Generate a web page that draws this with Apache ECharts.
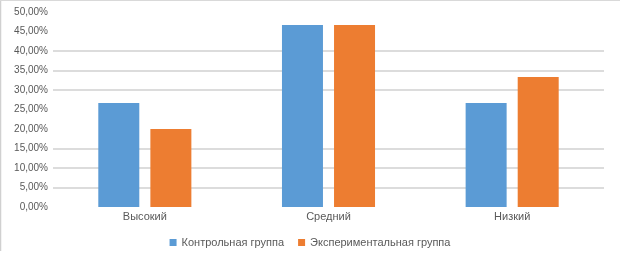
<!DOCTYPE html>
<html>
<head>
<meta charset="utf-8">
<script src="https://cdn.jsdelivr.net/npm/echarts@6/dist/echarts.min.js"></script>
<style>html,body{margin:0;padding:0;background:#fff}#c{width:620px;height:257px}</style>
</head>
<body>
<div id="c"></div>
<script>
var categories = ['Высокий', 'Средний', 'Низкий'];
var seriesNames = ['Контрольная группа', 'Экспериментальная группа'];
var controlValues = [26.67, 46.67, 26.67];
var experimentalValues = [20.0, 46.67, 33.33];
var gridLineValues = [5, 10, 15, 30, 35, 40];
var yMin = 0, yMax = 50, yStep = 5;

var chart = echarts.init(document.getElementById('c'), null, {renderer: 'canvas'});
var lblFont = 'Liberation Sans, Arial, sans-serif';
chart.setOption({
  animation: false,
  color: ['#5B9BD5', '#ED7D31'],
  grid: {left: 53, right: 16, top: 12, bottom: 50, containLabel: false},
  legend: {
    data: seriesNames,
    top: 232, left: 'center',
    itemWidth: 7, itemHeight: 7, itemGap: 14,
    icon: 'rect',
    textStyle: {color: '#595959', fontSize: 11, fontFamily: lblFont}
  },
  xAxis: {
    type: 'category', data: categories,
    axisLine: {show: false}, axisTick: {show: false},
    axisLabel: {color: '#595959', fontSize: 11, fontFamily: lblFont, margin: 4}
  },
  yAxis: {
    type: 'value', min: yMin, max: yMax, interval: yStep,
    axisLine: {show: false}, axisTick: {show: false},
    splitLine: {show: false},
    axisLabel: {
      color: '#595959', fontSize: 10, fontFamily: lblFont, margin: 5,
      formatter: function (v) { return v.toFixed(2).replace('.', ',') + '%'; }
    }
  },
  series: [
    {
      name: seriesNames[0], type: 'bar', data: controlValues,
      barWidth: 41, barGap: '27%',
      markLine: {
        silent: true, symbol: 'none', label: {show: false},
        lineStyle: {color: '#dcdcdc', width: 2, type: 'solid'},
        data: gridLineValues.map(function (v) { return {yAxis: v}; }),
        z: 0
      },
      z: 3
    },
    {
      name: seriesNames[1], type: 'bar', data: experimentalValues,
      barWidth: 41, barGap: '27%', z: 3
    }
  ],
  graphic: [
    {type: 'line', shape: {x1: 0.5, y1: 0, x2: 0.5, y2: 251}, style: {stroke: '#d0d0d0', lineWidth: 1.5}},
    {type: 'line', shape: {x1: 0, y1: 0.5, x2: 620, y2: 0.5}, style: {stroke: '#d9d9d9', lineWidth: 1}}
  ]
});
</script>
</body>
</html>
